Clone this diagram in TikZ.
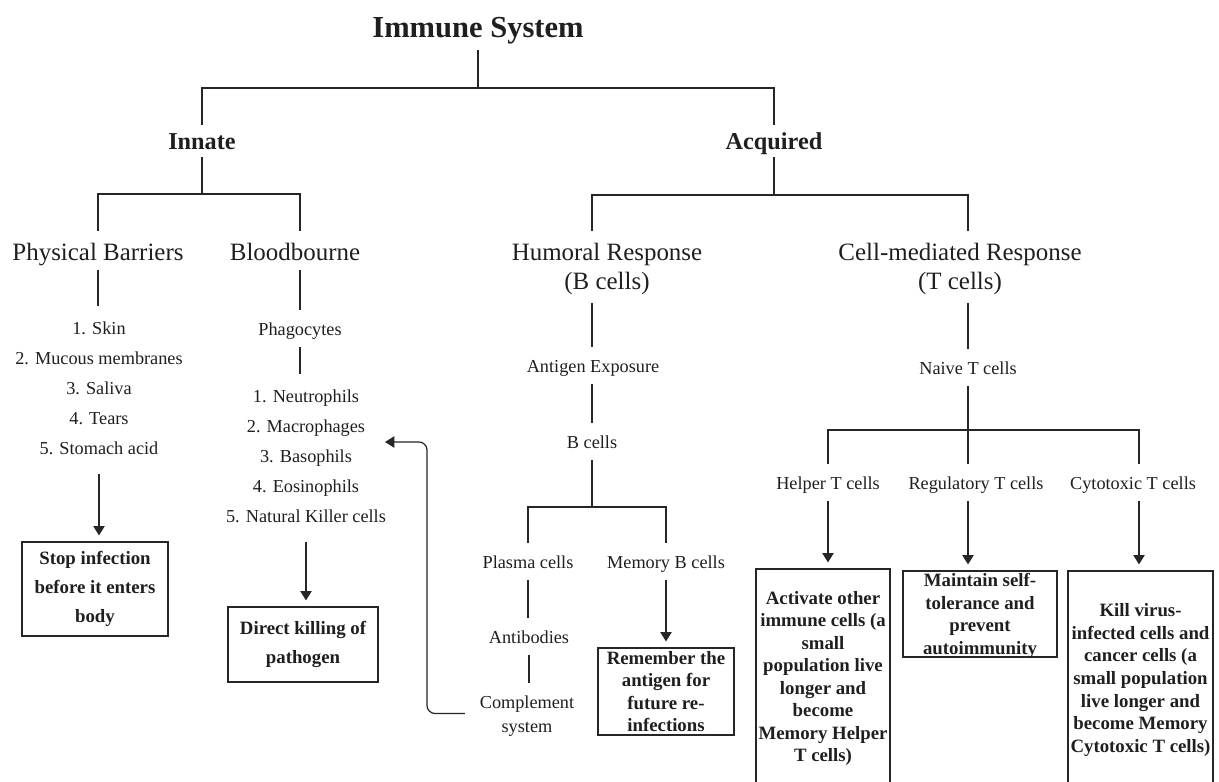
\documentclass[tikz,border=0pt]{standalone}
\usepackage{fontspec}
\setmainfont{Liberation Serif}
\usetikzlibrary{arrows.meta}
\newcommand\stackl[1]{\begin{tabular}[t]{@{}c@{}}#1\end{tabular}}
\begin{document}
\begin{tikzpicture}[x=0.75pt,y=-0.75pt,
  every node/.style={inner sep=0pt, text=black!88},
  conn/.style={draw=black!85, line width=0.9pt},
  tip/.style={-{Triangle[length=7pt,width=8.5pt]}},
  arr/.style={conn,tip, shorten >=4.5pt},
  ttl/.style={anchor=base, font=\fontsize{22.9pt}{26pt}\selectfont\bfseries, text height=18.75pt, text depth=9pt},
  branch/.style={anchor=base, font=\fontsize{18.2pt}{21pt}\selectfont\bfseries, text height=18pt, text depth=6pt},
  cat/.style={anchor=base, font=\fontsize{18.7pt}{21.75pt}\selectfont, text height=21.75pt, text depth=7.5pt},
  cattwo/.style={cat, text depth=32.25pt},
  item/.style={anchor=base, font=\fontsize{13.7pt}{18pt}\selectfont, text height=18.75pt, text depth=9pt},
  itemtwo/.style={item, text depth=27pt},
  lst/.style={anchor=base, font=\fontsize{13.7pt}{22.5pt}\selectfont, text height=21pt, text depth=105pt},
  outbox/.style={draw=black!85, line width=0.9pt, align=center, font=\fontsize{14.1pt}{16.9pt}\selectfont\bfseries},
  wideout/.style={outbox, font=\fontsize{14.1pt}{22pt}\selectfont\bfseries},
]
\useasboundingbox (0,0) rectangle (1219,781);
\fill[white] (0,0) rectangle (1219,781);
\clip (0,0) rectangle (1219,781);

% ---- nodes ----
\node[ttl] (title) at (478,38) {Immune System};
\node[branch] (innate) at (202,149) {Innate};
\node[branch] (acquired) at (774,149) {Acquired};

\node[cat] (pb) at (98,260) {Physical Barriers};
\node[cat] (bb) at (295,260) {Bloodbourne};
\node[cattwo] (hum) at (607,260) {\stackl{Humoral Response\\(B cells)}};
\node[cattwo] (cell) at (960,260) {\stackl{Cell-mediated Response\\(T cells)}};

\node[lst] (pblist) at (99,334) {\stackl{1. Skin\\2. Mucous membranes\\3. Saliva\\4. Tears\\5. Stomach acid}};
\node[item] (phago) at (300,335) {Phagocytes};
\node[lst] (bblist) at (306,402) {\stackl{1. Neutrophils\\2. Macrophages\\3. Basophils\\4. Eosinophils\\5. Natural Killer cells}};

\node[item] (antigen) at (593,372) {Antigen Exposure};
\node[item] (bcells) at (592,448) {B cells};
\node[item] (plasma) at (528,568) {Plasma cells};
\node[item] (memb) at (666,568) {Memory B cells};
\node[item] (antib) at (529,643) {Antibodies};
\node[itemtwo] (comp) at (527,708) {\stackl{Complement\\system}};

\node[item] (naive) at (968,374) {Naive T cells};
\node[item] (helper) at (828,489) {Helper T cells};
\node[item] (reg) at (976,489) {Regulatory T cells};
\node[item] (cyto) at (1133,489) {Cytotoxic T cells};

% ---- outcome boxes ----
\node[wideout, minimum width=109.5pt, minimum height=70.5pt] (stop) at (95,589) {Stop infection\\before it enters\\body};
\node[wideout, minimum width=112.5pt, minimum height=56.25pt] (direct) at (303,644.5) {Direct killing of\\pathogen};
\node[outbox, minimum width=102pt, minimum height=65.25pt] (remember) at (666,691.5) {Remember the\\antigen for\\future re-\\infections};
\node[outbox, minimum width=100.5pt, minimum height=164.25pt] (helperbox) at (823,678.5) {Activate other\\immune cells (a\\small\\population live\\longer and\\become\\Memory Helper\\T cells)};
\node[outbox, minimum width=115.5pt, minimum height=64.5pt] (regbox) at (980,614) {};
\begin{scope}
\clip (regbox.south west) rectangle (regbox.north east);
\node[align=center, font=\fontsize{14.1pt}{16.9pt}\selectfont\bfseries] (regtext) at (980,616) {Maintain self-\\tolerance and\\prevent\\autoimmunity};
\end{scope}
\node[outbox, minimum width=108.75pt, minimum height=163.5pt] (cytobox) at (1140.5,680) {Kill virus-\\infected cells and\\cancer cells (a\\small population\\live longer and\\become Memory\\Cytotoxic T cells)};

% ---- junctions ----
\coordinate (jtop) at (478,88);
\coordinate (jinn) at (202,194);
\coordinate (jacq) at (774,195);
\coordinate (jB) at (592,507);
\coordinate (jT) at (968,430);
\coordinate (jC) at (1139,430);
\coordinate (fbcorner) at (427,442);
\coordinate (fbtip) at (385,442);

% ---- connectors ----
\draw[conn] (title.south) -- (jtop);
\draw[conn] (innate.north) |- (jtop) -| (acquired.north);
\draw[conn] (innate.south) -- (jinn);
\draw[conn] (pb.north) |- (jinn) -| (bb.north -| phago.north);
\draw[conn] (pb.south) -- (pb.south |- pblist.north);
\draw[conn] (bb.south -| phago.north) -- (phago.north);
\draw[conn] (phago.south) -- (phago.south |- bblist.north);
\draw[arr] (pblist.south) -- (pblist.south |- stop.north);
\draw[arr] (bblist.south) -- (bblist.south |- direct.north);

\draw[conn] (acquired.south) -- (jacq);
\draw[conn] (hum.north -| bcells.north) |- (jacq) -| (cell.north -| naive.north);
\draw[conn] (hum.south -| bcells.north) -- (bcells.north |- antigen.north);
\draw[conn] (antigen.south -| bcells.north) -- (bcells.north);
\draw[conn] (bcells.south) -- (jB);
\draw[conn] (plasma.north) |- (jB) -| (memb.north);
\draw[conn] (plasma.south) -- (plasma.south |- antib.north);
\draw[conn] (antib.south) -- (antib.south |- comp.north);
\draw[arr] (memb.south) -- (memb.south |- remember.north);
\draw[conn, tip, rounded corners=6pt, shorten <=11pt] (comp.west) -| (fbcorner) -- (fbtip);

\draw[conn] (cell.south -| naive.north) -- (naive.north);
\draw[conn] (naive.south) -- (jT);
\draw[conn] (helper.north) |- (jC) -- (cyto.north -| jC);
\draw[conn] (jT) -- (reg.north -| jT);
\draw[arr] (helper.south) -- (helper.south |- helperbox.north);
\draw[arr] (reg.south -| jT) -- (regbox.north -| jT);
\draw[arr] (cyto.south -| jC) -- (cytobox.north -| jC);
\end{tikzpicture}
\end{document}
